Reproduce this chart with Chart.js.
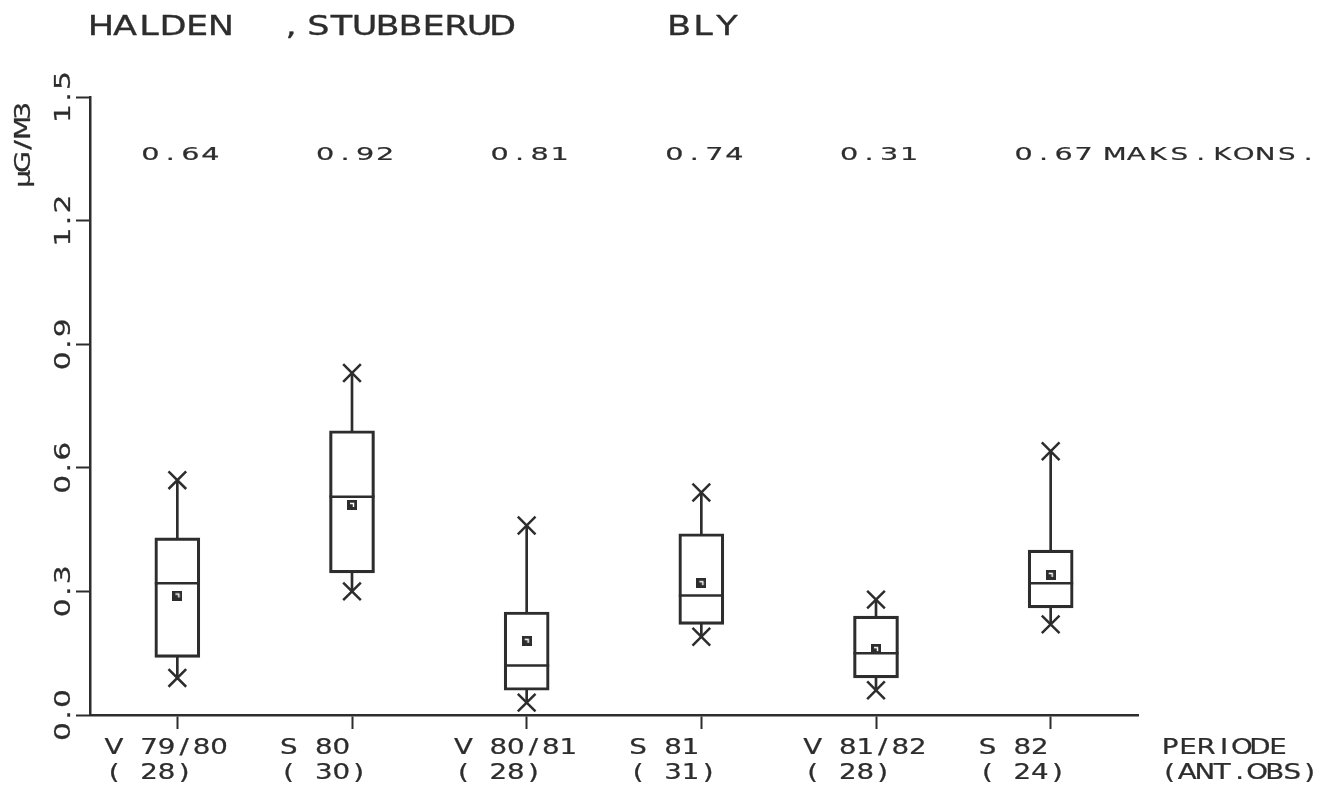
<!DOCTYPE html>
<html>
<head>
<meta charset="utf-8">
<script src="https://cdn.jsdelivr.net/npm/chart.js@4.4.1/dist/chart.umd.min.js"></script>
<style>
  html, body { margin: 0; padding: 0; background: #fff; }
  #wrap { width: 1329px; height: 787px; }
</style>
</head>
<body>
<div id="wrap"><canvas id="bly" width="1329" height="787"></canvas></div>
<script>
// Bly i luft, Halden / Stubberud, per måleperiode
const PERIODS = ['V 79/80', 'S 80', 'V 80/81', 'S 81', 'V 81/82', 'S 82'];
const N_OBS = [28, 30, 28, 31, 28, 24];
const MAX_CONC = [0.64, 0.92, 0.81, 0.74, 0.31, 0.67];

// box statistics, µg/m3
const P90 = [0.57, 0.83, 0.46, 0.54, 0.28, 0.64];
const Q3 = [0.43, 0.69, 0.25, 0.44, 0.24, 0.40];
const MEDIAN = [0.32, 0.53, 0.12, 0.29, 0.15, 0.32];
const MEAN = [0.29, 0.51, 0.18, 0.32, 0.16, 0.34];
const Q1 = [0.14, 0.345, 0.06, 0.22, 0.09, 0.26];
const P10 = [0.09, 0.30, 0.03, 0.19, 0.06, 0.22];

const Y_MIN = 0;
const Y_MAX = 1.5;
const Y_STEP = 0.3;

const INK = '#2d2d2d';

// plotter-style text: every character sits in a fixed-width cell,
// glyphs widened by sx and thickened with a thin outline
function plotText(ctx, str, x, y, size, adv, align, sx) {
  ctx.save();
  ctx.font = size + 'px "DejaVu Sans"';
  ctx.fillStyle = INK;
  ctx.strokeStyle = INK;
  ctx.lineWidth = size * 0.012;
  ctx.lineJoin = 'round';
  ctx.textAlign = 'center';
  ctx.textBaseline = 'alphabetic';
  const cap = size * 0.729;
  const x0 = align === 'center' ? x - (str.length * adv) / 2 : x;
  for (let i = 0; i < str.length; i++) {
    const ch = str[i];
    if (ch === ' ') continue;
    ctx.save();
    ctx.translate(x0 + (i + 0.5) * adv, y + cap / 2);
    ctx.scale(sx, 1);
    ctx.fillText(ch, 0, 0);
    ctx.strokeText(ch, 0, 0);
    ctx.restore();
  }
  ctx.restore();
}

function plotTextUp(ctx, str, x, y, size, adv, sx) {
  ctx.save();
  ctx.translate(x, y);
  ctx.rotate(-Math.PI / 2);
  plotText(ctx, str, 0, 0, size, adv, 'center', sx);
  ctx.restore();
}

// mean marker: small filled square with a light hook inside
function meanMarker() {
  const c = document.createElement('canvas');
  c.width = 10;
  c.height = 10;
  const g = c.getContext('2d');
  g.fillStyle = INK;
  g.fillRect(0, 0, 10, 10);
  g.strokeStyle = '#fff';
  g.lineWidth = 1.5;
  g.beginPath();
  g.moveTo(3, 3.5);
  g.lineTo(6.5, 3.5);
  g.lineTo(6.5, 7);
  g.stroke();
  return c;
}

const labelsPlugin = {
  id: 'plotterLabels',
  afterDraw(chart) {
    const ctx = chart.ctx;
    const xs = chart.scales.x;
    const ys = chart.scales.y;
    const area = chart.chartArea;

    // heading: place, station, component
    plotText(ctx, 'HALDEN', 89, 25.5, 27, 24, 'left', 1.3);
    plotText(ctx, ',', 279, 25.5, 27, 24, 'left', 1.3);
    plotText(ctx, 'STUBBERUD', 307, 25.5, 27, 23, 'left', 1.3);
    plotText(ctx, 'BLY', 667, 25.5, 27, 24, 'left', 1.3);

    // maximum concentrations above each period
    PERIODS.forEach((p, i) => {
      const cx = xs.getPixelForValue(i);
      plotText(ctx, MAX_CONC[i].toFixed(2), cx + 3, 153, 18.5, 20, 'center', 1.55);
      plotText(ctx, p, cx - 72, 747, 20.5, 17.5, 'left', 1.35);
      plotText(ctx, '( ' + N_OBS[i] + ')', cx - 72, 772, 20.5, 17.5, 'left', 1.35);
    });
    plotText(ctx, 'MAKS.KONS.', 1104, 153, 18.5, 21.5, 'left', 1.5);
    plotText(ctx, 'PERIODE', area.right + 23, 747, 20.5, 18, 'left', 1.35);
    plotText(ctx, '(ANT.OBS)', area.right + 23, 772, 20.5, 17.5, 'left', 1.35);

    // y tick labels, written upwards
    ys.ticks.forEach((t) => {
      plotTextUp(ctx, t.value.toFixed(1), 62, ys.getPixelForValue(t.value), 22, 16.5, 1.35);
    });
    plotTextUp(ctx, 'µG/M3', 22, 145, 22, 17, 1.3);
  }
};

const ctx = document.getElementById('bly').getContext('2d');

new Chart(ctx, {
  type: 'bar',
  data: {
    labels: PERIODS,
    datasets: [
      {
        label: 'Kvartiler',
        data: Q1.map((q, i) => [q, Q3[i]]),
        backgroundColor: 'rgba(0,0,0,0)',
        borderColor: INK,
        borderWidth: 2.5,
        borderSkipped: false,
        barThickness: 45,
        grouped: false,
        order: 3,
      },
      {
        label: 'Øvre',
        data: Q3.map((q, i) => [q, P90[i]]),
        backgroundColor: INK,
        borderWidth: 0,
        barThickness: 2,
        grouped: false,
        order: 4,
      },
      {
        label: 'Nedre',
        data: P10.map((p, i) => [p, Q1[i]]),
        backgroundColor: INK,
        borderWidth: 0,
        barThickness: 2,
        grouped: false,
        order: 4,
      },
      {
        type: 'line',
        label: 'Median',
        data: MEDIAN,
        showLine: false,
        pointStyle: 'line',
        pointRadius: 22.5,
        pointBorderWidth: 2.5,
        pointBorderColor: INK,
        order: 2,
      },
      {
        type: 'line',
        label: 'Middel',
        data: MEAN,
        showLine: false,
        pointStyle: meanMarker(),
        order: 1,
      },
      {
        type: 'line',
        label: '90-persentil',
        data: P90,
        showLine: false,
        pointStyle: 'crossRot',
        pointRadius: 12.5,
        pointBorderWidth: 2.5,
        pointBorderColor: INK,
        order: 1,
      },
      {
        type: 'line',
        label: '10-persentil',
        data: P10,
        showLine: false,
        pointStyle: 'crossRot',
        pointRadius: 12.5,
        pointBorderWidth: 2.5,
        pointBorderColor: INK,
        order: 1,
      },
    ],
  },
  options: {
    responsive: false,
    animation: false,
    events: [],
    layout: {
      padding: { left: 76, right: 191, top: 97, bottom: 58 },
    },
    plugins: {
      legend: { display: false },
      title: { display: false },
      tooltip: { enabled: false },
    },
    scales: {
      x: {
        type: 'category',
        offset: true,
        grid: {
          display: true,
          offset: false,
          drawOnChartArea: false,
          drawTicks: true,
          tickLength: 14,
          tickWidth: 2,
          tickColor: INK,
        },
        border: { display: true, color: INK, width: 2.5 },
        ticks: { display: false },
        afterFit: (s) => { s.height = 14; },
      },
      y: {
        type: 'linear',
        min: Y_MIN,
        max: Y_MAX,
        grid: {
          display: true,
          drawOnChartArea: false,
          drawTicks: true,
          tickLength: 14,
          tickWidth: 2,
          tickColor: INK,
        },
        border: { display: true, color: INK, width: 2.5 },
        ticks: { display: false, stepSize: Y_STEP },
        afterFit: (s) => { s.width = 14; },
      },
    },
  },
  plugins: [labelsPlugin],
});
</script>
</body>
</html>
